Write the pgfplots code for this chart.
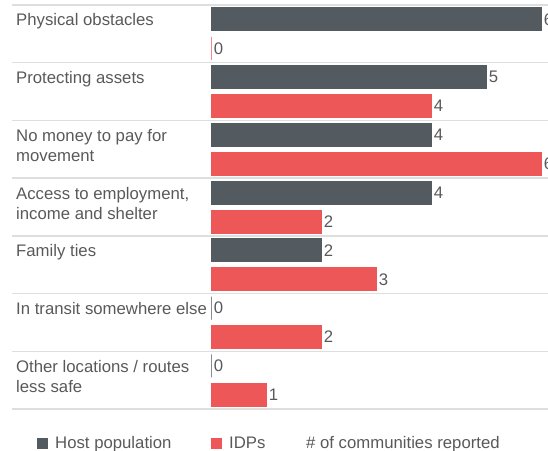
\documentclass[border=0pt]{standalone}
\usepackage{fontspec}
\setmainfont{Liberation Sans}
\usepackage{pgfplots}
\pgfplotsset{compat=1.18}
\definecolor{hostc}{HTML}{535A60}
\definecolor{idpc}{HTML}{EE5758}
\definecolor{txt}{HTML}{58595B}
\definecolor{sep}{HTML}{DEDEDE}
\begin{document}
\begin{tikzpicture}[lbl/.style={anchor=base west,inner sep=0pt,text=txt,font=\fontsize{16.8}{20}\selectfont}]
\begin{axis}[
    scale only axis, width=548bp, height=451bp,
    xmin=-3.8364, xmax=6.1273, ymin=-1.224, ymax=6.585,
    axis lines=none, clip=false,
    xbar, bar width=0.398,
    nodes near coords,
    nodes near coords style={anchor=west, inner sep=0pt, xshift=2.5bp, text=txt,
        font=\fontsize{16.8}{20}\selectfont},
    /pgf/number format/assume math mode=true,
]
% separators
\draw[sep, line width=1.5bp] (axis cs:-3.618,6.5) -- (axis cs:6.1273,6.5);
\draw[sep, line width=1.5bp] (axis cs:-3.618,5.5) -- (axis cs:6.1273,5.5);
\draw[sep, line width=1.5bp] (axis cs:-3.618,4.5) -- (axis cs:6.1273,4.5);
\draw[sep, line width=1.5bp] (axis cs:-3.618,3.5) -- (axis cs:6.1273,3.5);
\draw[sep, line width=1.5bp] (axis cs:-3.618,2.5) -- (axis cs:6.1273,2.5);
\draw[sep, line width=1.5bp] (axis cs:-3.618,1.5) -- (axis cs:6.1273,1.5);
\draw[sep, line width=1.5bp] (axis cs:-3.618,0.5) -- (axis cs:6.1273,0.5);
\draw[sep, line width=1.5bp] (axis cs:-3.618,-0.5) -- (axis cs:6.1273,-0.5);

% Host population
\addplot[fill=hostc, draw=hostc, line width=0.8bp, bar shift=0.251] coordinates {
    (6,6) (5,5) (4,4) (4,3) (2,2) (0,1) (0,0)};
% IDPs
\addplot[fill=idpc, draw=idpc, line width=0.8bp, bar shift=-0.251] coordinates {
    (0,6) (4,5) (6,4) (2,3) (3,2) (2,1) (1,0)};

% category labels
\node[lbl] at (axis cs:-3.5455,6.135) {Physical obstacles};
\node[lbl] at (axis cs:-3.5455,5.135) {Protecting assets};
\node[lbl] at (axis cs:-3.5455,4.135) {No money to pay for};
\node[lbl] at (axis cs:-3.5455,3.789) {movement};
\node[lbl] at (axis cs:-3.5455,3.135) {Access to employment,};
\node[lbl] at (axis cs:-3.5455,2.789) {income and shelter};
\node[lbl] at (axis cs:-3.5455,2.135) {Family ties};
\node[lbl] at (axis cs:-3.5455,1.135) {In transit somewhere else};
\node[lbl] at (axis cs:-3.5455,0.135) {Other locations / routes};
\node[lbl] at (axis cs:-3.5455,-0.211) {less safe};

% legend
\node[fill=hostc, minimum size=11bp, inner sep=0pt] at (axis cs:-3.0636,-1.095) {};
\node[lbl] at (axis cs:-2.836,-1.18) {Host population};
\node[fill=idpc, minimum size=11bp, inner sep=0pt] at (axis cs:0.1,-1.095) {};
\node[lbl] at (axis cs:0.327,-1.18) {IDPs};
\node[lbl] at (axis cs:1.727,-1.18) {\# of communities reported};
\end{axis}
\pgfresetboundingbox
\path[use as bounding box] (current axis.south west) rectangle (current axis.north east);
\end{tikzpicture}
\end{document}
